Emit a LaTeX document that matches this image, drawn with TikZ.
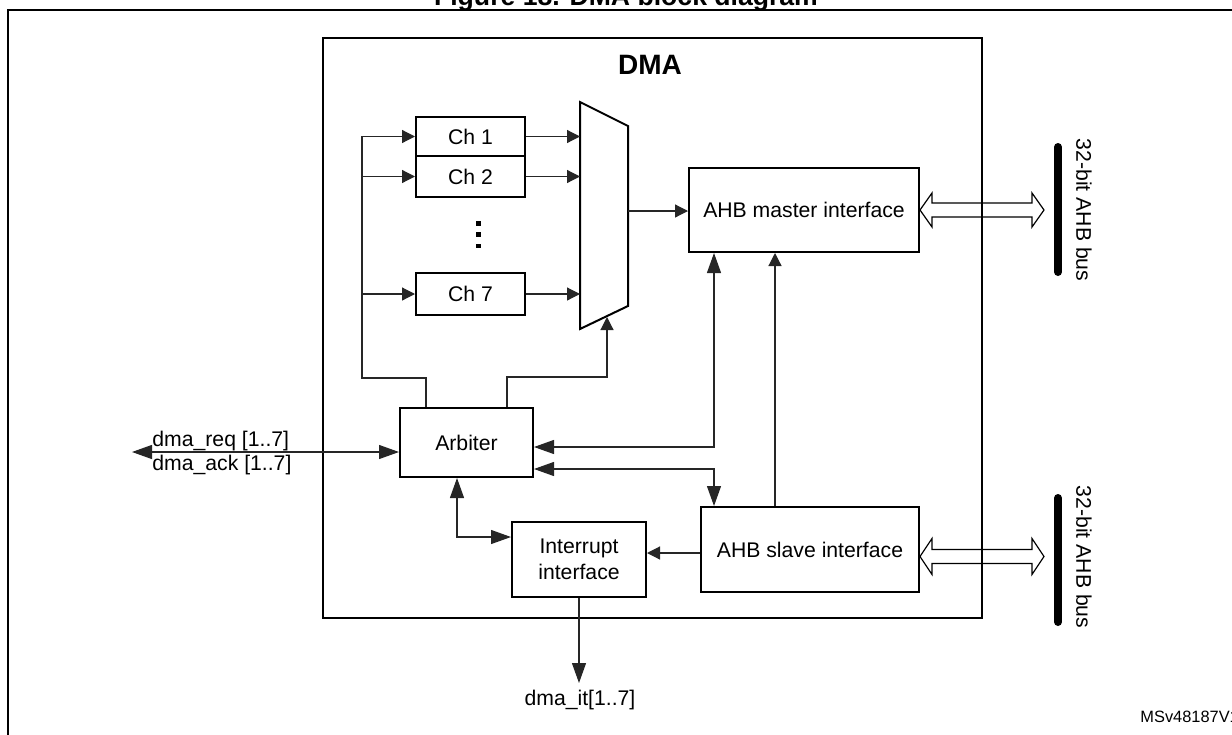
\documentclass[tikz,border=0pt]{standalone}
\usepackage{fontspec}
\setmainfont{Liberation Sans}
\usetikzlibrary{arrows.meta}
\begin{document}
\begin{tikzpicture}[x=0.5pt,y=-0.5pt,
  every node/.style={font=\fontsize{10.6}{13}\selectfont, inner sep=0pt},
  blk/.style={draw, line width=1pt, align=center},
  conn/.style={draw=black!85, line width=0.6pt},
  arrS/.style={arrows={-Triangle[length=6.5pt,width=6.5pt]}},
  arrL/.style={arrows={-Triangle[length=10pt,width=7pt]}},
  arrLL/.style={arrows={Triangle[length=10pt,width=7pt]-Triangle[length=10pt,width=7pt]}},
  busarr/.style={draw, line width=0.6pt, line join=miter},
  busbar/.style={line width=4pt, line cap=round},
  buslbl/.style={rotate=-90}
]
\useasboundingbox (0,0) rectangle (1232,734);
\clip (0,0) rectangle (1232,734);

% outer frame and title
\draw[line width=1pt] (8,10) rectangle (1260,760);
\node[font=\bfseries\fontsize{13.3}{16}\selectfont, anchor=base] (title) at (626,5) {Figure 18. DMA block diagram};

% DMA block
\node[draw, line width=1.2pt, minimum width=329.5pt, minimum height=290pt] (dma) at (652.5,328) {};
\node[font=\bfseries\fontsize{14}{17}\selectfont] (dmalbl) at (650,65) {DMA};

% channel boxes
\node[blk, minimum width=54.5pt, minimum height=19.5pt] (ch1) at (470.5,136.5) {Ch 1};
\node[blk, minimum width=54.5pt, minimum height=20.5pt] (ch2) at (470.5,176.5) {Ch 2};
\node[blk, minimum width=54.5pt, minimum height=21pt] (ch7) at (470.5,294) {Ch 7};
\fill (476,221) rectangle (480.5,225.5);
\fill (476,232) rectangle (480.5,236.5);
\fill (476,243.5) rectangle (480.5,248);

% other blocks
\node[blk, minimum width=115pt, minimum height=42pt] (mst) at (804,210) {AHB master interface};
\node[blk, minimum width=109pt, minimum height=42.5pt] (slv) at (810,549.5) {AHB slave interface};
\node[blk, minimum width=66.5pt, minimum height=34.5pt] (arb) at (466.5,442.5) {Arbiter};
\node[blk, minimum width=67pt, minimum height=37.5pt] (intr) at (579,559.5) {Interrupt\\interface};

% multiplexer
\coordinate (mxA) at (580,102);
\coordinate (mxB) at (628,126);
\coordinate (mxC) at (628,306);
\coordinate (mxD) at (580,329);
\draw[line width=1pt, line join=miter] (mxA) -- (mxB) -- (mxC) -- (mxD) -- cycle;
\coordinate (muxout) at (628,211);
\coordinate (muxbot) at (607,317);

% feed lines to channels
\coordinate (fA) at (426,378);
\coordinate (fB) at (362,378);
\draw[conn, arrS] (arb.north -| fA) -- (fA) -- (fB) -- (fB |- ch1.west) -- (ch1.west);
\draw[conn, arrS] (fB |- ch2.west) -- (ch2.west);
\draw[conn, arrS] (fB |- ch7.west) -- (ch7.west);

% channels to mux
\draw[conn, arrS] (ch1.east) -- (ch1.east -| mxA);
\draw[conn, arrS] (ch2.east) -- (ch2.east -| mxA);
\draw[conn, arrS] (ch7.east) -- (ch7.east -| mxA);

% mux to master
\draw[conn, arrS] (muxout) -- (muxout -| mst.west);

% arbiter to mux select
\coordinate (aB) at (507,377);
\draw[conn, arrS] (arb.north -| aB) -- (aB) -| (muxbot);

% master <-> arbiter
\coordinate (mA) at (714,447);
\draw[conn, arrLL] (mst.south -| mA) -- (mA) -- (mA -| arb.east);

% arbiter <-> slave
\coordinate (sA) at (714,469);
\draw[conn, arrLL] (sA -| arb.east) -- (sA) -- (sA |- slv.north);

% slave -> master
\coordinate (sm) at (775,400);
\draw[conn, arrS] (slv.north -| sm) -- (mst.south -| sm);

% slave -> interrupt
\coordinate (si) at (680,553);
\draw[conn, arrS] (si -| slv.west) -- (si -| intr.east);

% arbiter <-> interrupt
\coordinate (ai) at (457,537);
\draw[conn, arrLL] (arb.south -| ai) -- (ai) -- (ai -| intr.west);

% interrupt output
\coordinate (it) at (579,683);
\draw[conn, arrL] (intr.south) -- (it);
\node (itl) at (580,700) {dma\_it[1..7]};

% dma_req / dma_ack
\coordinate (dq) at (132,452);
\draw[conn, arrLL] (dq) -- (dq -| arb.west);
\node[anchor=base west] (req) at (152,446) {dma\_req [1..7]};
\node[anchor=base west] (ack) at (152,470) {dma\_ack [1..7]};

% bus arrows
\draw[busarr] (mst.east) -- ++(12,-17) -- ++(0,10) -- ++(100,0) -- ++(0,-10) -- ++(12,17)
  -- ++(-12,17) -- ++(0,-10) -- ++(-100,0) -- ++(0,10) -- cycle;
\draw[busarr] ([yshift=-3.5pt]slv.east) -- ++(12,-18) -- ++(0,11) -- ++(100,0) -- ++(0,-11) -- ++(12,18)
  -- ++(-12,18) -- ++(0,-11) -- ++(-100,0) -- ++(0,11) -- cycle;

% bus bars and labels
\coordinate (b1t) at (1058,147);
\coordinate (b1b) at (1058,272);
\coordinate (b2t) at (1058,498);
\coordinate (b2b) at (1058,622);
\draw[busbar] (b1t) -- (b1b);
\draw[busbar] (b2t) -- (b2b);
\node[buslbl] (bl1) at (1084,210) {32-bit AHB bus};
\node[buslbl] (bl2) at (1084,557) {32-bit AHB bus};

% figure code
\node[anchor=base west, font=\fontsize{8.2}{10}\selectfont] (code) at (1140,722) {MSv48187V1};
\end{tikzpicture}
\end{document}
